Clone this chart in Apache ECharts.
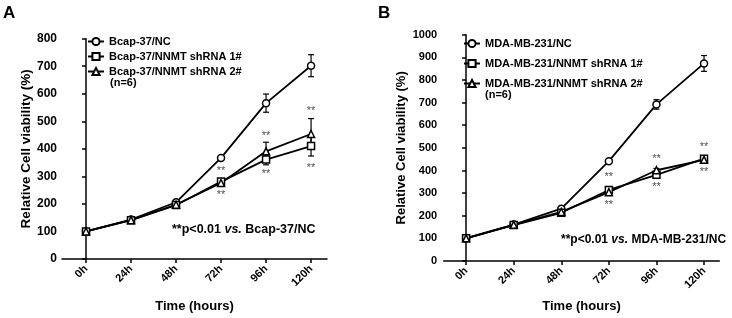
<!DOCTYPE html>
<html>
<head>
<meta charset="utf-8">
<script src="https://cdn.jsdelivr.net/npm/echarts@6/dist/echarts.min.js"></script>
<style>
html, body { margin: 0; padding: 0; background: #fff; }
#chart { width: 732px; height: 318px; }
</style>
</head>
<body>
<div id="chart"></div>
<script>
// time points (hours)
const hours = [0, 24, 48, 72, 96, 120]

// panel A : Bcap-37
const aNC = [100, 143, 206, 367, 566, 702]
const aSh1 = [100, 141, 196, 281, 361, 410]
const aSh2 = [100, 141, 197, 276, 391, 454]
const aNCErr = [4, 4, 5, 6, 33, 40]
const aSh1Err = [4, 4, 5, 6, 19, 36]
const aSh2Err = [4, 4, 5, 6, 33, 56]
const aStars = [[72, 318], [72, 232], [96, 447], [96, 310], [120, 537], [120, 332]]

// panel B : MDA-MB-231
const bNC = [101, 161, 231, 441, 692, 873]
const bSh1 = [100, 159, 213, 314, 381, 452]
const bSh2 = [100, 160, 217, 304, 401, 447]
const bNCErr = [4, 5, 6, 8, 21, 35]
const bSh1Err = [4, 4, 5, 8, 8, 8]
const bSh2Err = [4, 4, 5, 8, 8, 8]
const bStars = [[72, 373], [72, 246], [96, 452], [96, 329], [120, 505], [120, 395]]

const FONT = '"Liberation Sans", Arial, sans-serif'

function pairs(vals) {
  return hours.map((h, i) => [h, vals[i]])
}

function errBars(vals, errs, idx) {
  return {
    type: 'custom',
    xAxisIndex: idx,
    yAxisIndex: idx,
    z: 1,
    silent: true,
    data: hours.map((h, i) => [h, vals[i] - errs[i], vals[i] + errs[i]]),
    renderItem: function(params, api) {
      let lo = api.coord([api.value(0), api.value(1)])
      let hi = api.coord([api.value(0), api.value(2)])
      let style = { stroke: '#000', lineWidth: 1.2 }
      return {
        type: 'group',
        children: [
          { type: 'line', shape: { x1: lo[0], y1: lo[1], x2: hi[0], y2: hi[1] }, style: style },
          { type: 'line', shape: { x1: lo[0] - 3, y1: lo[1], x2: lo[0] + 3, y2: lo[1] }, style: style },
          { type: 'line', shape: { x1: hi[0] - 3, y1: hi[1], x2: hi[0] + 3, y2: hi[1] }, style: style }
        ]
      }
    }
  }
}

function lineSeries(name, vals, symbol, idx) {
  return {
    name: name,
    type: 'line',
    xAxisIndex: idx,
    yAxisIndex: idx,
    z: 3,
    data: pairs(vals),
    symbol: symbol,
    symbolSize: 7,
    showAllSymbol: true,
    lineStyle: { color: '#000', width: 1.8 },
    itemStyle: { color: '#fff', borderColor: '#000', borderWidth: 1.5 },
    emphasis: { disabled: true }
  }
}

function starSeries(pts, idx) {
  return {
    type: 'scatter',
    xAxisIndex: idx,
    yAxisIndex: idx,
    z: 4,
    symbolSize: 0,
    data: pts,
    label: {
      show: true,
      position: 'inside',
      formatter: '**',
      color: '#222',
      fontSize: 11,
      fontFamily: FONT
    }
  }
}

function xAxis(idx, min, max, gap) {
  return {
    type: 'value',
    gridIndex: idx,
    min: min,
    max: max,
    name: 'Time (hours)',
    nameLocation: 'middle',
    nameGap: gap,
    nameTextStyle: { fontSize: 13, fontWeight: 'bold', color: '#000', fontFamily: FONT },
    splitLine: { show: false },
    axisLine: { lineStyle: { color: '#000', width: 1.5 } },
    axisTick: { customValues: hours, length: 4, lineStyle: { color: '#000', width: 1.5 } },
    axisLabel: {
      customValues: hours,
      formatter: v => v + 'h',
      rotate: 45,
      margin: 8,
      fontSize: 11,
      fontWeight: 'bold',
      color: '#000',
      fontFamily: FONT
    }
  }
}

function yAxis(idx, max, gap, nameSize, labelSize, margin) {
  return {
    type: 'value',
    gridIndex: idx,
    min: 0,
    max: max,
    interval: 100,
    name: 'Relative Cell viability (%)',
    nameLocation: 'middle',
    nameGap: gap,
    nameTextStyle: { fontSize: nameSize, fontWeight: 'bold', color: '#000', fontFamily: FONT },
    splitLine: { show: false },
    axisLine: { show: true, lineStyle: { color: '#000', width: 1.5 } },
    axisTick: { show: true, length: 4, lineStyle: { color: '#000', width: 1.5 } },
    axisLabel: {
      margin: margin,
      formatter: v => String(v),
      fontSize: labelSize,
      fontWeight: 'bold',
      color: '#000',
      fontFamily: FONT
    }
  }
}

function legend(names, left, top, gap) {
  return {
    data: names,
    orient: 'vertical',
    left: left,
    top: top,
    itemWidth: 16,
    itemHeight: 9,
    itemGap: gap,
    padding: 0,
    selectedMode: false,
    textStyle: { fontSize: 11, fontWeight: 'bold', color: '#000', fontFamily: FONT }
  }
}

const aNames = ['Bcap-37/NC', 'Bcap-37/NNMT shRNA 1#', 'Bcap-37/NNMT shRNA 2#']
const bNames = ['MDA-MB-231/NC', 'MDA-MB-231/NNMT shRNA 1#', 'MDA-MB-231/NNMT shRNA 2#']

const myChart = echarts.init(document.getElementById('chart'))
myChart.setOption({
  animation: false,
  grid: [
    { left: 62, top: 38.7, width: 265, height: 223.3 },
    { left: 443.7, top: 34.7, width: 275.6, height: 230.3 }
  ],
  xAxis: [xAxis(0, -12.8, 128.5, 41), xAxis(1, -11.3, 127.7, 39)],
  yAxis: [yAxis(0, 800, 26, 13.5, 12, 5), yAxis(1, 1000, 36, 13, 11, 6.5)],
  legend: [
    legend(aNames, 87, 36, 4),
    legend(bNames, 463, 38, 9)
  ],
  graphic: [
    { type: 'text', left: 3, top: 5, style: { text: 'A', font: 'bold 17px ' + FONT, fill: '#000' } },
    { type: 'text', left: 378, top: 5, style: { text: 'B', font: 'bold 17px ' + FONT, fill: '#000' } },
    { type: 'text', left: 110, top: 77, style: { text: '(n=6)', font: 'bold 11px ' + FONT, fill: '#000' } },
    { type: 'text', left: 485, top: 89, style: { text: '(n=6)', font: 'bold 11px ' + FONT, fill: '#000' } },
    {
      type: 'text', left: 172, top: 223,
      style: {
        text: '**p<0.01 {i|vs.} Bcap-37/NC',
        font: 'bold 12.5px ' + FONT,
        fill: '#000',
        rich: { i: { fontStyle: 'italic', fontWeight: 'bold', fontSize: 12.5, fontFamily: FONT } }
      }
    },
    {
      type: 'text', left: 561, top: 234,
      style: {
        text: '**p<0.01 {i|vs.} MDA-MB-231/NC',
        font: 'bold 12px ' + FONT,
        fill: '#000',
        rich: { i: { fontStyle: 'italic', fontWeight: 'bold', fontSize: 12, fontFamily: FONT } }
      }
    }
  ],
  series: [
    errBars(aNC, aNCErr, 0),
    errBars(aSh1, aSh1Err, 0),
    errBars(aSh2, aSh2Err, 0),
    lineSeries(aNames[0], aNC, 'circle', 0),
    lineSeries(aNames[1], aSh1, 'rect', 0),
    lineSeries(aNames[2], aSh2, 'triangle', 0),
    starSeries(aStars, 0),
    errBars(bNC, bNCErr, 1),
    errBars(bSh1, bSh1Err, 1),
    errBars(bSh2, bSh2Err, 1),
    lineSeries(bNames[0], bNC, 'circle', 1),
    lineSeries(bNames[1], bSh1, 'rect', 1),
    lineSeries(bNames[2], bSh2, 'triangle', 1),
    starSeries(bStars, 1)
  ]
})
</script>
</body>
</html>
